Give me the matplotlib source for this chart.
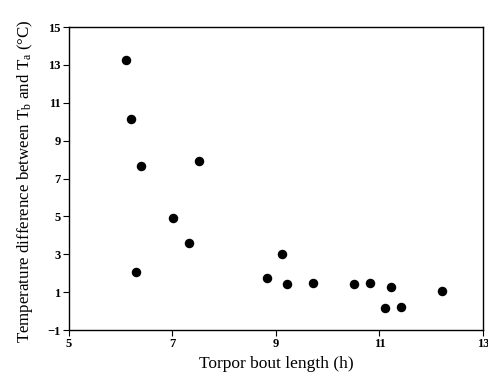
import matplotlib
matplotlib.use("Agg")
import matplotlib.pyplot as plt

plt.rcParams.update({"font.family": "Liberation Serif",
                     "mathtext.fontset": "custom",
                     "mathtext.rm": "Liberation Serif",
                     "mathtext.it": "Liberation Serif:italic",
                     "mathtext.bf": "Liberation Serif:bold"})

# ── data ──────────────────────────────────────────────────────────────
bout_len = [6.10, 6.20, 6.40, 7.51, 7.01, 7.31, 6.30, 8.82, 9.11, 9.22,
            9.72, 10.51, 10.82, 11.22, 11.11, 11.42, 12.21]
temp_diff = [13.26, 10.14, 7.65, 7.92, 4.92, 3.58, 2.06, 1.73, 3.00, 1.43,
             1.48, 1.41, 1.48, 1.27, 0.18, 0.22, 1.06]

x_ticks = [5, 7, 9, 11, 13]
y_ticks = [-1, 1, 3, 5, 7, 9, 11, 13, 15]

# ── plot ──────────────────────────────────────────────────────────────
fig = plt.figure(figsize=(4.89, 3.82), dpi=100)
ax = fig.add_axes([0.1411, 0.1361, 0.8466, 0.7932])

ax.scatter(bout_len, temp_diff, s=34, color="black", zorder=3, clip_on=False)

ax.set_xlim(5, 13)
ax.set_ylim(-1, 15)
ax.set_xticks(x_ticks)
ax.set_yticks(y_ticks)
ax.tick_params(direction="out", length=4, width=0.8, labelsize=9, pad=2)
for lab in ax.get_xticklabels() + ax.get_yticklabels():
    lab.set_fontweight("bold")
for sp in ax.spines.values():
    sp.set_linewidth(1.0)

ax.set_xlabel("Torpor bout length (h)", fontsize=12.5)
ax.xaxis.set_label_coords(0.5, -0.085)
ax.set_ylabel(r"Temperature difference between T$_\mathrm{b}$ and T$_\mathrm{a}$ (°C)",
              fontsize=12.2)
ax.yaxis.set_label_coords(-0.082, 0.49)

fig.savefig("out.png", dpi=100, facecolor="white")
plt.close(fig)
